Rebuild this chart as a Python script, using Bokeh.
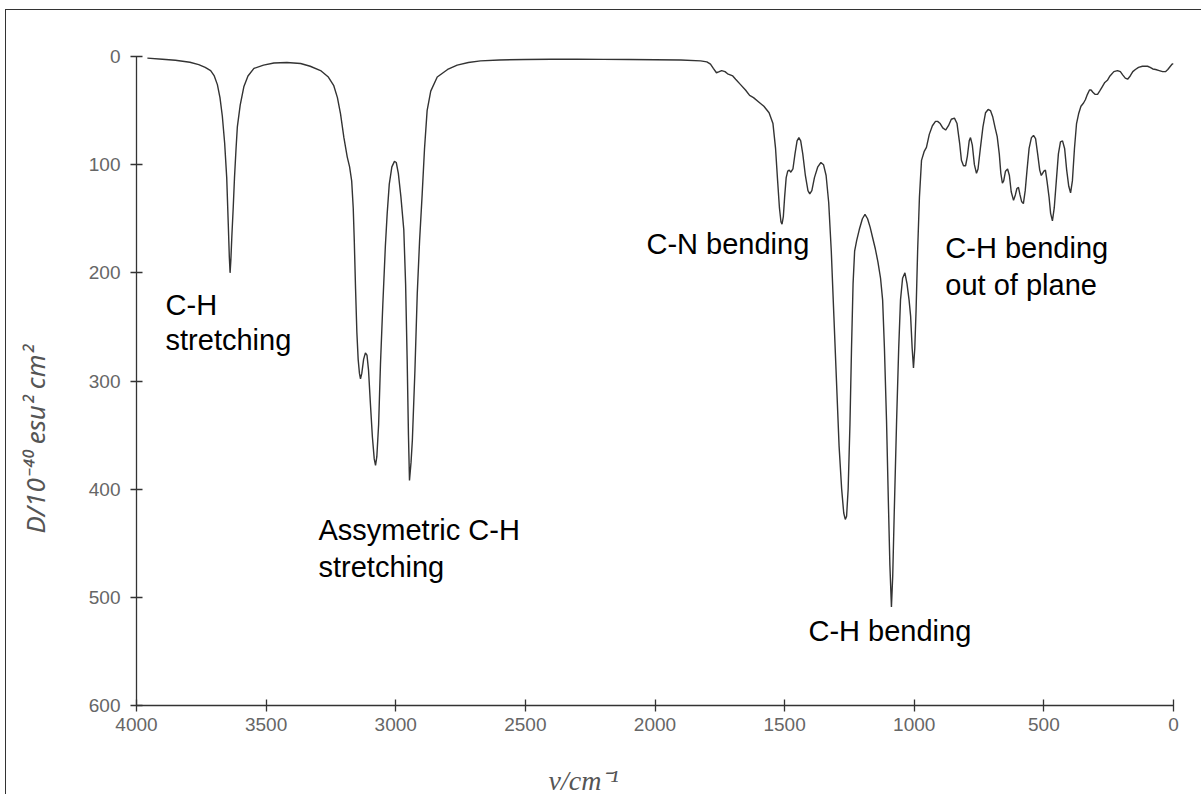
from bokeh.plotting import figure
from bokeh.models import Range1d, FixedTicker, ColumnDataSource, Title, LinearAxis
from bokeh.embed import file_html
from bokeh.resources import INLINE
from bokeh.core.properties import value

# ---- spectrum (wavenumber cm^-1, D / 1e-40 esu^2 cm^2) ----
wavenumber = [3958, 3900, 3850, 3794, 3760, 3735, 3714, 3700, 3688, 3678, 3669, 3660, 3652, 3646,
              3642, 3639, 3636, 3632, 3627, 3622, 3616, 3611, 3600, 3586, 3570, 3547, 3510, 3470,
              3420, 3367, 3330, 3290, 3260, 3239, 3225, 3213, 3200, 3187, 3178, 3170, 3164, 3160,
              3155, 3150, 3145, 3140, 3136, 3131, 3124, 3117, 3111, 3105, 3098, 3090, 3083, 3078,
              3073, 3066, 3059, 3050, 3040, 3033, 3025, 3015, 3005, 2998, 2990, 2980, 2969, 2962,
              2956, 2951, 2947, 2941, 2936, 2926, 2917, 2908, 2898, 2889, 2879, 2865, 2840, 2800,
              2763, 2720, 2673, 2600, 2500, 2400, 2300, 2200, 2100, 2000, 1900, 1824, 1800, 1786,
              1775, 1763, 1752, 1743, 1730, 1720, 1700, 1689, 1670, 1651, 1635, 1620, 1600, 1580,
              1560, 1545, 1535, 1527, 1520, 1514, 1510, 1505, 1500, 1494, 1488, 1482, 1476, 1468,
              1460, 1452, 1445, 1438, 1430, 1420, 1410, 1403, 1395, 1385, 1372, 1360, 1350, 1340,
              1330, 1320, 1310, 1300, 1290, 1280, 1272, 1266, 1261, 1255, 1248, 1242, 1236, 1230,
              1222, 1212, 1200, 1190, 1180, 1170, 1160, 1150, 1140, 1130, 1122, 1115, 1107, 1100,
              1094, 1088, 1083, 1077, 1068, 1060, 1053, 1045, 1036, 1028, 1020, 1014, 1008, 1003,
              998, 993, 987, 980, 972, 962, 953, 942, 930, 918, 910, 900, 890, 879, 868, 857, 845,
              835, 825, 818, 810, 802, 795, 788, 783, 776, 768, 760, 754, 745, 735, 725, 715, 706,
              697, 688, 680, 672, 666, 660, 655, 648, 640, 633, 626, 617, 610, 604, 598, 592, 586,
              579, 572, 565, 557, 548, 540, 532, 524, 516, 510, 505, 500, 494, 488, 480, 474, 467,
              460, 452, 444, 436, 428, 420, 412, 404, 397, 390, 382, 374, 366, 357, 347, 340, 332,
              324, 318, 311, 303, 293, 285, 275, 265, 255, 245, 230, 216, 205, 196, 186, 177, 167,
              157, 147, 135, 120, 100, 90, 80, 69, 55, 42, 31, 22, 12, 5, 0]
dipole = [1.5, 2.5, 3.5, 5.3, 7.5, 10, 13, 18, 26, 38, 55, 80, 112, 155,
          185, 200, 188, 165, 140, 112, 85, 65, 45, 28, 18, 11, 8, 6,
          5.5, 6.5, 9, 13, 19, 27, 38, 53, 75, 93, 102, 115, 140, 170,
          215, 255, 280, 293, 298, 293, 280, 274, 276, 290, 320, 352, 372, 378,
          370, 340, 285, 230, 175, 145, 118, 102, 97, 98, 108, 130, 160, 210,
          280, 350, 392, 375, 355, 290, 219, 170, 127, 85, 50, 32, 19, 12,
          8, 5.5, 4, 3.2, 2.8, 2.6, 2.6, 2.7, 2.8, 3, 3.3, 4, 5, 7,
          11, 15, 14, 13, 14, 16, 18, 21, 26, 31, 36, 38, 42, 46,
          52, 62, 85, 115, 140, 153, 155, 148, 130, 112, 106, 105, 107, 104,
          90, 78, 75, 78, 90, 110, 124, 127, 124, 112, 102, 98, 100, 110,
          135, 180, 240, 300, 360, 400, 422, 428, 425, 400, 340, 270, 210, 180,
          170, 160, 150, 146, 150, 158, 168, 178, 190, 205, 225, 270, 336, 410,
          470, 509, 480, 420, 336, 270, 225, 205, 200, 210, 225, 240, 270, 288,
          270, 235, 180, 130, 96, 88, 84, 72, 64, 60, 60, 62, 66, 68, 64, 58, 57,
          62, 80, 96, 101, 101, 92, 78, 75, 82, 100, 108, 104, 85, 65, 52, 49, 50,
          56, 66, 74, 90, 108, 117, 115, 106, 104, 110, 125, 133, 128, 122, 121, 128, 134,
          136, 124, 105, 85, 75, 73, 76, 90, 105, 110, 108, 106, 105, 115, 130, 145, 152,
          140, 115, 90, 79, 78, 85, 105, 120, 126, 115, 85, 62, 53, 46, 43, 40, 35,
          31, 31, 33, 35, 35, 32, 28, 24, 22, 18, 14, 13, 14, 17, 20, 21, 18,
          14, 12, 10, 9, 9, 10, 11.5, 12, 13, 14, 14, 12, 9, 7, 6.5]

x_ticks = [4000, 3500, 3000, 2500, 2000, 1500, 1000, 500, 0]
y_ticks = [0, 100, 200, 300, 400, 500, 600]

# ---- annotations (one entry per text line) ----
ann_text = ["C-H", "stretching", "Assymetric C-H", "stretching", "C-N bending",
            "C-H bending", "C-H bending", "out of plane"]
ann_x = [3888, 3888, 3298, 3298, 2033, 1408, 880, 880]
ann_y = [230, 262, 438, 472, 173, 531, 177, 211]

x_title = "\u03bd/cm\u207b\u00b9"
y_title = "D/10\u207b\u2074\u2070 esu\u00b2 cm\u00b2"

p = figure(width=1196, height=785, output_backend="svg", toolbar_location=None,
           x_range=Range1d(4000, 0), y_range=Range1d(600, 0),
           min_border_left=130, min_border_right=29, min_border_top=46, min_border_bottom=90)
p.margin = (9, 0, 0, 5)
p.styles = {"border-left": "1px solid #333", "border-top": "1px solid #333"}
p.outline_line_color = None
p.grid.visible = False
p.background_fill_color = "white"
p.border_fill_color = "white"

for ax, ticks, stand in ((p.xaxis[0], x_ticks, 6), (p.yaxis[0], y_ticks, 10)):
    ax.ticker = FixedTicker(ticks=ticks)
    ax.axis_line_color = "#333333"
    ax.axis_line_width = 1.3
    ax.major_tick_line_color = "#333333"
    ax.major_tick_line_width = 1.3
    ax.major_tick_in = 6
    ax.major_tick_out = 6
    ax.minor_tick_line_color = None
    ax.major_label_text_font = "Liberation Sans"
    ax.major_label_text_font_size = "19px"
    ax.major_label_text_color = "#666666"
    ax.major_label_standoff = stand

# blank spacer axes (invisible tick, no label) that only push the axis titles outward
for side, tick, gap in (("below", x_ticks[0], 29), ("left", y_ticks[-1], 33)):
    sp = LinearAxis(ticker=FixedTicker(ticks=[tick]), axis_line_color=None,
                    major_tick_in=0, major_tick_out=gap, major_tick_line_color="white",
                    major_tick_line_alpha=0.0, minor_tick_in=0, minor_tick_out=0,
                    minor_tick_line_color=None, major_label_standoff=0,
                    major_label_text_font_size="0px", major_label_overrides={tick: ""})
    p.add_layout(sp, side)

src = ColumnDataSource(dict(x=wavenumber, y=dipole))
p.line("x", "y", source=src, line_color="#333333", line_width=1.4)

asrc = ColumnDataSource(dict(x=ann_x, y=ann_y, t=ann_text))
p.text("x", "y", text="t", source=asrc, text_font=value("Liberation Sans"),
       text_font_size="29px", text_color="#000000", text_align="left", text_baseline="middle")

xt = Title(text=x_title, align="left", offset=412, text_font="Liberation Serif",
           text_font_style="italic", text_font_size="28px", text_color="#555555")
yt = Title(text=y_title, align="left", offset=172, text_font="Noto Sans",
           text_font_style="italic", text_font_size="26px", text_color="#555555")
xt.standoff = 0
yt.standoff = 0
p.add_layout(xt, "below")
p.add_layout(yt, "left")

open("out.html", "w").write(file_html(p, INLINE))
